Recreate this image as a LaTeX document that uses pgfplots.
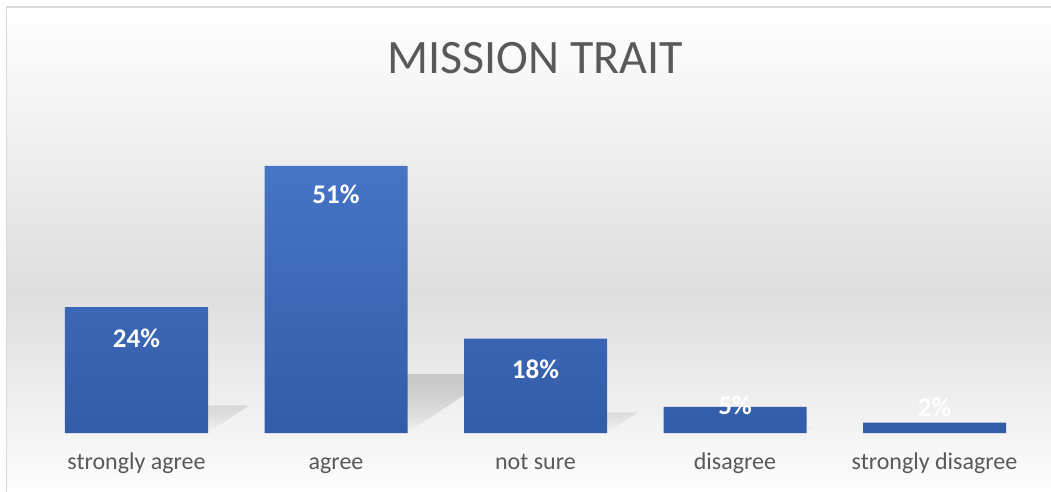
\documentclass[border=0pt]{standalone}
\usepackage{pgfplots}
\pgfplotsset{compat=1.18}
\usetikzlibrary{fadings}
\usepackage{fontspec}
\setmainfont{Carlito}
\definecolor{txtgray}{RGB}{89,89,89}
\definecolor{bordergray}{RGB}{217,217,217}
\definecolor{bgmid}{RGB}{222,222,222}
\definecolor{bartop}{RGB}{70,116,198}
\definecolor{barbot}{RGB}{51,92,168}
\begin{document}
\begin{tikzpicture}
\useasboundingbox (-136.5pt,-58pt) rectangle (914.5pt,433pt);
% background
\shade[top color=white, bottom color=bgmid] (-130pt,140pt) rectangle (930pt,426pt);
\shade[top color=bgmid, bottom color=white] (-130pt,-70pt) rectangle (930pt,140pt);
\draw[bordergray, line width=1.5pt] (-130pt,-70pt) -- (-130pt,426pt) -- (930pt,426pt);
\node[text=txtgray, font=\fontsize{48}{56}\selectfont] at (398.5pt,375pt) {MISSION TRAIT};
\begin{axis}[
  at={(0pt,0pt)}, anchor=origin,
  x=199.5pt, y=5.24pt,
  xmin=-0.5, xmax=4.5, ymin=0, ymax=60,
  clip=false,
  axis line style={draw=none},
  ytick=\empty,
  xtick={0,1,2,3,4},
  xticklabels={strongly agree, agree, not sure, disagree, strongly disagree},
  major tick length=0pt,
  xticklabel style={text=txtgray, font=\fontsize{24}{28}\selectfont,
    text height=17pt, text depth=6pt, yshift=-16pt},
]
\addplot[ybar, bar width=143pt, draw=none,
  top color=bartop, bottom color=barbot,
  preaction={top color=black!55, bottom color=black, fill opacity=0.28, path fading=south,
    transform canvas={cm={1,0,0.33,0.22,(0pt,0pt)}}}]
  coordinates {(0,24) (1,51) (2,18) (3,5) (4,2)};
\addplot[only marks, mark=none, nodes near coords, point meta=explicit symbolic,
  every node near coord/.append style={anchor=center, text=white,
    font=\fontsize{27}{30}\selectfont\bfseries}]
  table[meta=label] {
x y label
0 18.1 24\%
1 45.6 51\%
2 12.2 18\%
3 5.34 5\%
4 4.96 2\%
};
\end{axis}
\end{tikzpicture}
\end{document}
